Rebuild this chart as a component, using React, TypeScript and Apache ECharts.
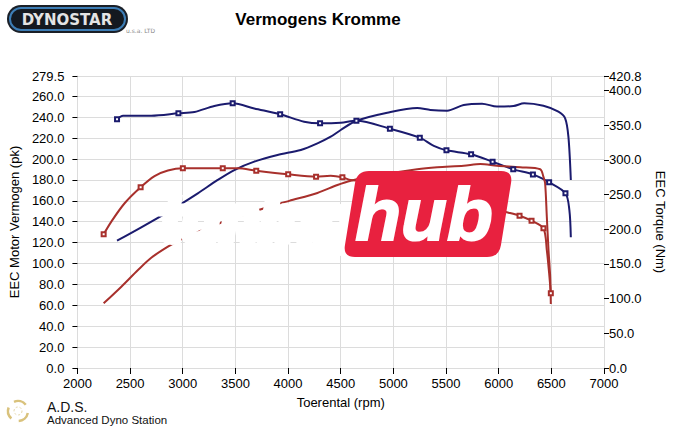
import React, { useEffect, useRef } from "react";
import * as echarts from "echarts";

// ---- data ----
const blueTorqueRpm = [2376, 2433, 2701, 2959, 3111, 3300, 3474, 3679, 3925, 4152, 4304, 4500, 4649, 4967, 5251, 5384, 5504, 5738, 5942, 6138, 6325, 6479, 6634, 6671, 6685];
const blueTorqueNm = [358.4, 363.6, 363.6, 367.0, 369.0, 377.6, 381.5, 374.0, 365.6, 355.0, 352.6, 353.5, 356.4, 344.9, 331.9, 320.0, 313.7, 308.0, 297.3, 286.3, 279.0, 267.6, 251.8, 227.7, 188.3];
const blueTorqueMarks = [1, 0, 0, 1, 0, 0, 1, 0, 1, 0, 1, 0, 1, 1, 1, 0, 1, 1, 1, 1, 1, 1, 1, 0, 0];

const bluePowerRpm = [2376, 2606, 2890, 3143, 3332, 3490, 3679, 3900, 4121, 4279, 4405, 4500, 4649, 4942, 5226, 5352, 5510, 5668, 5842, 5984, 6141, 6242, 6425, 6567, 6631, 6662, 6685];
const bluePowerPk = [121.9, 134.7, 151.2, 167.2, 180.0, 189.5, 197.5, 203.9, 208.7, 215.0, 221.4, 227.8, 236.7, 244.4, 248.9, 247.0, 246.3, 251.7, 253.0, 250.2, 250.8, 253.4, 251.0, 245.3, 239.0, 221.4, 180.0];

const redTorqueRpm = [2249, 2322, 2448, 2600, 2732, 2859, 3001, 3380, 3522, 3698, 4001, 4266, 4405, 4516, 4595, 4800, 5000, 5250, 5500, 5800, 6000, 6094, 6198, 6312, 6425, 6457, 6479, 6495];
const redTorqueNm = [192.7, 211.0, 237.4, 260.4, 276.5, 284.5, 287.8, 287.8, 287.8, 284.3, 279.1, 275.7, 277.0, 274.8, 270.9, 268.0, 263.0, 255.0, 246.0, 236.0, 227.0, 223.8, 219.5, 212.3, 201.3, 170.0, 136.5, 107.6];
const redTorqueMarks = [1, 0, 0, 1, 0, 0, 1, 1, 0, 1, 1, 1, 0, 1, 0, 0, 0, 0, 0, 0, 0, 0, 1, 1, 1, 0, 0, 1];

const redPowerRpm = [2249, 2417, 2575, 2701, 2859, 2985, 3190, 3411, 3664, 3837, 4011, 4279, 4469, 4595, 4815, 5226, 5416, 5668, 5826, 5984, 6205, 6394, 6425, 6441, 6457, 6473, 6489, 6495];
const redPowerPk = [61.9, 77.8, 93.8, 105.5, 116.1, 123.2, 132.1, 141.0, 149.3, 155.0, 160.0, 167.5, 175.2, 179.3, 183.8, 190.2, 192.1, 193.6, 195.3, 193.6, 192.1, 190.2, 183.0, 176.8, 144.8, 113.0, 87.4, 61.3];

const leftMax = 279.5;
const rightMax = 420.8;

const BLUE = "#1b1b6e";
const RED = "#a8302c";
const GRID = "#dcdcdc";
const FONT = "Liberation Sans";

function pts(rpm: number[], vals: number[], marks?: number[]) {
  return rpm.map((r, i) => ({
    value: [r, vals[i]],
    symbol: marks && marks[i] ? "emptyRect" : "none",
  }));
}

const hubPath =
  "M369 171 L501 171 Q513 171 511.07 182.85 L500.93 245.15 Q499 257 487 257 L355 257 Q343 257 344.93 245.15 L355.07 182.85 Q357 171 369 171 Z";

export default function App() {
  const ref = useRef<HTMLDivElement>(null);
  useEffect(() => {
    if (!ref.current) return;
    try {
      echarts.graphic.registerShape("hubbox", echarts.graphic.extendPath(hubPath, {}));
    } catch (e) {}
    const chart = echarts.init(ref.current, undefined, { renderer: "svg" });
    const lineBase = {
      type: "line" as const,
      showSymbol: true,
      showAllSymbol: true,
      symbolSize: 4,
      smooth: 0.3,
      z: 3,
    };
    const axisLbl = { color: "#000", fontSize: 13, fontFamily: FONT };
    chart.setOption({
      animation: false,
      backgroundColor: "#fff",
      grid: { left: 76, right: 81, top: 76, bottom: 60, containLabel: false },
      xAxis: {
        type: "value",
        min: 2000,
        max: 7000,
        interval: 500,
        axisLine: { show: true, onZero: false, lineStyle: { color: GRID } },
        axisTick: { show: true, length: 6, lineStyle: { color: "#000" } },
        axisLabel: { ...axisLbl, margin: 9, formatter: (v: number) => String(v) },
        splitLine: { show: true, lineStyle: { color: GRID, width: 1 } },
        name: "Toerental (rpm)",
        nameLocation: "middle",
        nameGap: 28,
        nameTextStyle: { color: "#000", fontSize: 13, fontFamily: FONT },
      },
      yAxis: [
        {
          type: "value",
          position: "left",
          min: 0,
          max: leftMax,
          interval: 20,
          axisLine: { show: true, lineStyle: { color: GRID } },
          axisTick: { show: true, length: 5, lineStyle: { color: "#000" } },
          axisLabel: { ...axisLbl, margin: 13, showMaxLabel: true, formatter: (v: number) => v.toFixed(1) },
          splitLine: { show: true, lineStyle: { color: GRID, width: 1 } },
          name: "EEC Motor Vermogen (pk)",
          nameLocation: "middle",
          nameGap: 52,
          nameRotate: 90,
          nameTextStyle: { color: "#000", fontSize: 13, fontFamily: FONT },
        },
        {
          type: "value",
          position: "right",
          min: 0,
          max: rightMax,
          interval: 50,
          axisLine: { show: true, lineStyle: { color: GRID } },
          axisTick: { show: true, length: 5, lineStyle: { color: "#000" } },
          axisLabel: { ...axisLbl, margin: 5, showMaxLabel: true, formatter: (v: number) => v.toFixed(1) },
          splitLine: { show: false },
          name: "EEC Torque (Nm)",
          nameLocation: "middle",
          nameGap: 50,
          nameRotate: -90,
          nameTextStyle: { color: "#000", fontSize: 13, fontFamily: FONT },
        },
      ],
      series: [
        {
          ...lineBase,
          name: "Blue torque",
          yAxisIndex: 1,
          data: pts(blueTorqueRpm, blueTorqueNm, blueTorqueMarks),
          lineStyle: { color: BLUE, width: 2 },
          itemStyle: { color: BLUE, borderWidth: 1 },
        },
        {
          ...lineBase,
          name: "Blue power",
          yAxisIndex: 0,
          data: pts(bluePowerRpm, bluePowerPk),
          lineStyle: { color: BLUE, width: 2 },
          itemStyle: { color: BLUE },
        },
        {
          ...lineBase,
          name: "Red torque",
          yAxisIndex: 1,
          data: pts(redTorqueRpm, redTorqueNm, redTorqueMarks),
          lineStyle: { color: RED, width: 2 },
          itemStyle: { color: RED, borderWidth: 1 },
        },
        {
          ...lineBase,
          name: "Red power",
          yAxisIndex: 0,
          data: pts(redPowerRpm, redPowerPk),
          lineStyle: { color: RED, width: 2 },
          itemStyle: { color: RED },
        },
      ],
      graphic: [
        {
          type: "text",
          x: 318,
          y: 19,
          z: 50,
          style: {
            text: "Vermogens Kromme",
            fill: "#000",
            font: `bold 17px "${FONT}"`,
            align: "center",
            verticalAlign: "middle",
          },
        },
        // Dynostar logo
        { type: "rect", z: 50, shape: { x: 7, y: 5, width: 121, height: 28, r: 14 }, style: { fill: "#1a1f27" } },
        { type: "rect", z: 51, shape: { x: 10, y: 8, width: 115, height: 22, r: 11 }, style: { fill: "#141920", stroke: "#3d7db5", lineWidth: 2 } },
        {
          type: "text",
          x: 67,
          y: 19.5,
          z: 52,
          style: { text: "DYNOSTAR", fill: "#e4e4e4", font: 'bold 15px "DejaVu Sans"', align: "center", verticalAlign: "middle" },
        },
        {
          type: "text",
          x: 126,
          y: 30,
          z: 52,
          style: { text: "u.s.a. LTD", fill: "#888", font: '6px "DejaVu Sans"', align: "left", verticalAlign: "middle" },
        },
        // A.D.S. logo
        { type: "arc", z: 50, shape: { cx: 18, cy: 411, r: 10, startAngle: 0.2, endAngle: 1.5 }, style: { stroke: "#d9c27c", lineWidth: 2.5, fill: "none" } },
        { type: "arc", z: 50, shape: { cx: 18, cy: 411, r: 10, startAngle: 2.3, endAngle: 3.5 }, style: { stroke: "#d9c27c", lineWidth: 2.5, fill: "none" } },
        { type: "arc", z: 50, shape: { cx: 18, cy: 411, r: 10, startAngle: 4.3, endAngle: 5.6 }, style: { stroke: "#d9c27c", lineWidth: 2.5, fill: "none" } },
        { type: "circle", z: 50, shape: { cx: 18, cy: 411, r: 4 }, style: { stroke: "#e3d6a8", lineWidth: 1, fill: "none", lineDash: [2, 2] } },
        {
          type: "text",
          x: 47,
          y: 407,
          z: 50,
          style: { text: "A.D.S.", fill: "#111", font: `14px "${FONT}"`, align: "left", verticalAlign: "middle" },
        },
        {
          type: "text",
          x: 47,
          y: 420,
          z: 50,
          style: { text: "Advanced Dyno Station", fill: "#111", font: `11.5px "${FONT}"`, align: "left", verticalAlign: "middle" },
        },
        // watermark
        {
          type: "text",
          x: 160,
          y: 219,
          z: 100,
          style: {
            text: "tuning",
            fill: "#fff",
            stroke: "#fff",
            lineWidth: 7,
            font: `italic bold 64px "${FONT}"`,
            align: "left",
            verticalAlign: "middle",
          },
        },
        { type: "hubbox", x: 0, y: 0, z: 100, style: { fill: "#e8213f" } },
        {
          type: "text",
          x: 424,
          y: 214,
          z: 101,
          style: {
            text: "hub",
            fill: "#fff",
            stroke: "#fff",
            lineWidth: 2,
            font: `italic bold 75px "${FONT}"`,
            align: "center",
            verticalAlign: "middle",
          },
        },
      ],
    });
    return () => chart.dispose();
  }, []);
  return <div ref={ref} style={{ position: "fixed", left: 0, top: 0, width: 685, height: 428 }} />;
}
